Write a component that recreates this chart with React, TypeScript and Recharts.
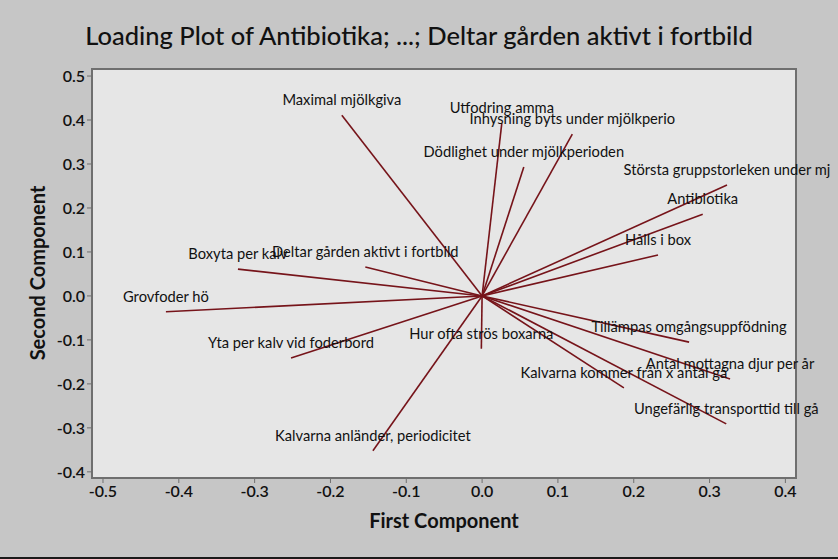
import React from "react";
import {
  ScatterChart,
  Scatter,
  XAxis,
  YAxis,
  CartesianGrid,
  ReferenceLine,
  ReferenceArea,
} from "recharts";

const variables = [
  "Antibiotika",
  "Största gruppstorleken under mj",
  "Hålls i box",
  "Utfodring amma",
  "Inhysning byts under mjölkperio",
  "Dödlighet under mjölkperioden",
  "Maximal mjölkgiva",
  "Boxyta per kalv",
  "Deltar gården aktivt i fortbild",
  "Grovfoder hö",
  "Yta per kalv vid foderbord",
  "Kalvarna anländer, periodicitet",
  "Hur ofta strös boxarna",
  "Tillämpas omgångsuppfödning",
  "Antal mottagna djur per år",
  "Kalvarna kommer från x antal gå",
  "Ungefärlig transporttid till gå",
];

const firstComponent = [
  0.291, 0.323, 0.232, 0.026, 0.119, 0.055, -0.185, -0.322, -0.154, -0.417,
  -0.252, -0.144, -0.001, 0.273, 0.327, 0.187, 0.322,
];

const secondComponent = [
  0.186, 0.252, 0.093, 0.393, 0.368, 0.293, 0.411, 0.061, 0.066, -0.036,
  -0.141, -0.352, -0.12, -0.105, -0.189, -0.209, -0.291,
];

const xTicks = [-0.5, -0.4, -0.3, -0.2, -0.1, 0, 0.1, 0.2, 0.3, 0.4];
const yTicks = [-0.4, -0.3, -0.2, -0.1, 0, 0.1, 0.2, 0.3, 0.4, 0.5];

const X_DOMAIN: [number, number] = [-0.5145, 0.414];
const Y_DOMAIN: [number, number] = [-0.414, 0.516];

const LINE_COLOR = "#76141a";
const FONT = "Lato, 'Open Sans', sans-serif";

const points = variables.map((name, i) => ({
  name,
  x: firstComponent[i],
  y: secondComponent[i],
}));

// etikett centrerad ovanför ändpunkten
const LoadingLabel = (props: any) => {
  const { cx, cy, payload } = props;
  if (cx == null || cy == null) return null;
  return (
    <text
      x={cx}
      y={cy - 16}
      textAnchor="middle"
      dominantBaseline="central"
      fontFamily={FONT}
      fontSize={14.7}
      fill="#111"
    >
      {payload.name}
    </text>
  );
};

export default function App() {
  return (
    <div
      style={{
        position: "absolute",
        left: 0,
        top: 0,
        width: 838,
        height: 559,
        background: "#c6c6c6",
        boxSizing: "border-box",
        borderBottom: "2px solid #1a1a1a",
        overflow: "hidden",
      }}
    >
      <div
        style={{
          position: "absolute",
          left: 0,
          top: 20,
          width: 838,
          textAlign: "center",
          fontFamily: FONT,
          fontSize: 25.5,
          fontWeight: 500,
          color: "#111",
        }}
      >
        Loading Plot of Antibiotika; ...; Deltar gården aktivt i fortbild
      </div>
      <div
        style={{
          position: "absolute",
          left: 92,
          top: 508,
          width: 704,
          textAlign: "center",
          fontFamily: FONT,
          fontSize: 20,
          fontWeight: 700,
          color: "#111",
        }}
      >
        First Component
      </div>
      <div
        style={{
          position: "absolute",
          left: 37 - 100,
          top: 273 - 12,
          width: 200,
          height: 24,
          lineHeight: "24px",
          textAlign: "center",
          transform: "rotate(-90deg)",
          fontFamily: FONT,
          fontSize: 20,
          fontWeight: 700,
          color: "#111",
        }}
      >
        Second Component
      </div>
      <ScatterChart
        width={838}
        height={559}
        margin={{ top: 69, right: 42, bottom: 51, left: 32 }}
        style={{ position: "absolute", left: 0, top: 0, overflow: "visible" }}
      >
        <CartesianGrid horizontal={false} vertical={false} fill="#e6e6e6" />
        <XAxis
          type="number"
          dataKey="x"
          domain={X_DOMAIN}
          ticks={xTicks}
          tickFormatter={(v: number) => v.toFixed(1)}
          axisLine={false}
          tickLine={{ stroke: "#6f6f6f" }}
          tickSize={5}
          tickMargin={3}
          height={30}
          tick={{ fill: "#111", fontSize: 16, fontFamily: FONT, fontWeight: 600 }}
        />
        <YAxis
          type="number"
          dataKey="y"
          domain={Y_DOMAIN}
          ticks={yTicks}
          tickFormatter={(v: number) => v.toFixed(1)}
          axisLine={false}
          tickLine={{ stroke: "#6f6f6f" }}
          tickSize={5}
          tickMargin={2}
          width={60}
          tick={{ fill: "#111", fontSize: 16, fontFamily: FONT, fontWeight: 600 }}
        />
        <ReferenceArea
          x1={X_DOMAIN[0]}
          x2={X_DOMAIN[1]}
          y1={Y_DOMAIN[0]}
          y2={Y_DOMAIN[1]}
          fill="none"
          stroke="#6f6f6f"
          strokeWidth={2}
        />
        {points.map((p) => (
          <ReferenceLine
            key={p.name}
            segment={[
              { x: 0, y: 0 },
              { x: p.x, y: p.y },
            ]}
            stroke={LINE_COLOR}
            strokeWidth={1.6}
          />
        ))}
        <Scatter
          data={points}
          shape={LoadingLabel}
          isAnimationActive={false}
        />
      </ScatterChart>
    </div>
  );
}
